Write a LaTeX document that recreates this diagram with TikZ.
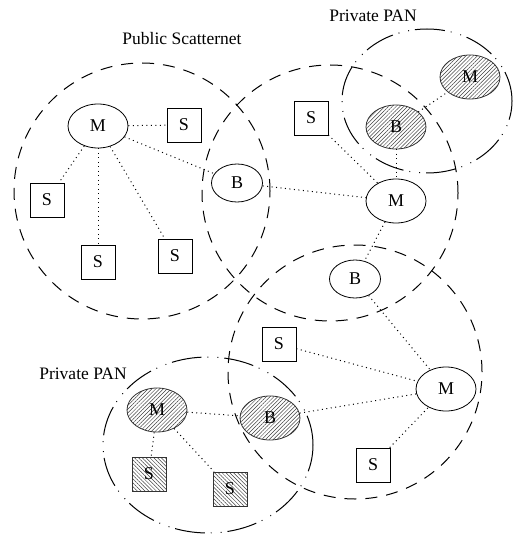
\documentclass[tikz,border=0pt]{standalone}
\usepackage{fontspec}
\setmainfont{Liberation Serif}
\usetikzlibrary{shapes.geometric,patterns.meta}
\begin{document}
\begin{tikzpicture}[x=1pt,y=-1pt,
  bigcirc/.style={line width=1pt,dash pattern=on 12pt off 9pt},
  pan/.style={line width=1pt,dash pattern=on 30pt off 6pt on 0.9pt off 9pt on 0.9pt off 6pt},
  link/.style={line width=1pt,dash pattern=on 1pt off 3.5pt},
  lbl/.style={font=\fontsize{17.5}{20}\selectfont},
  master/.style={ellipse,draw,line width=0.8pt,minimum width=60pt,minimum height=44pt,inner sep=0pt,font=\fontsize{18}{20}\selectfont},
  bridge/.style={ellipse,draw,line width=0.8pt,minimum width=51pt,minimum height=38pt,inner sep=0pt,font=\fontsize{18}{20}\selectfont},
  slave/.style={rectangle,draw,line width=0.8pt,minimum size=34pt,inner sep=0pt,font=\fontsize{18}{20}\selectfont},
  hatchE/.style={draw=black!80,pattern={Lines[angle=45,distance=2.7pt,line width=0.5pt]},pattern color=black!75},
  hatchS/.style={draw=black!80,pattern={Lines[angle=-45,distance=2.7pt,line width=0.5pt]},pattern color=black!75}
]
\useasboundingbox (0,0) rectangle (512,537);

% circles
\draw[bigcirc] (142,191) circle[radius=128pt];
\draw[bigcirc] (330,193) circle[radius=128pt];
\draw[bigcirc] (355,372) circle[radius=127pt];
\draw[pan] (427,101) ellipse[x radius=85pt,y radius=72pt];
\draw[pan] (208,445) ellipse[x radius=105pt,y radius=88pt];

% labels
\node[lbl] (lpub) at (182,39) {Public Scatternet};
\node[lbl] (lpan1) at (373,16) {Private PAN};
\node[lbl] (lpan2) at (83,374) {Private PAN};

% public scatternet
\node[master] (m1) at (98,126) {M};
\node[slave] (s1) at (184,125) {S};
\node[slave] (s2) at (47,200) {S};
\node[slave] (s3) at (98,262) {S};
\node[slave] (s4) at (175,256) {S};
\node[bridge] (b1) at (237,183) {B};

% middle
\node[slave] (s5) at (311,118) {S};
\node[master] (m2) at (396,201) {M};
\node[master,hatchE] (b2) at (396,127) {B};
\node[master,hatchE] (m3) at (470,77) {M};
\node[bridge] (b3) at (355,279) {B};

% bottom right
\node[slave] (s6) at (279,344) {S};
\node[master] (m4) at (446,389) {M};
\node[slave] (s7) at (373,465) {S};
\node[master,hatchE] (b4) at (270,418) {B};

% bottom-left private PAN
\node[master,hatchE] (m5) at (157,410) {M};
\node[slave,hatchS] (s8) at (149,474) {S};
\node[slave,hatchS] (s9) at (230,489) {S};

% links
\draw[link] (m1) -- (s1);
\draw[link] (m1) -- (s2);
\draw[link] (m1) -- (s3);
\draw[link] (m1) -- (s4);
\draw[link] (m1) -- (b1);
\draw[link] (b1) -- (m2);
\draw[link] (s5) -- (m2);
\draw[link] (b2) -- (m2);
\draw[link] (b2) -- (m3);
\draw[link] (m2) -- (b3);
\draw[link] (b3) -- (m4);
\draw[link] (s6) -- (m4);
\draw[link] (b4) -- (m4);
\draw[link] (s7) -- (m4);
\draw[link] (m5) -- (b4);
\draw[link] (m5) -- (s8);
\draw[link] (m5) -- (s9);
\end{tikzpicture}
\end{document}
